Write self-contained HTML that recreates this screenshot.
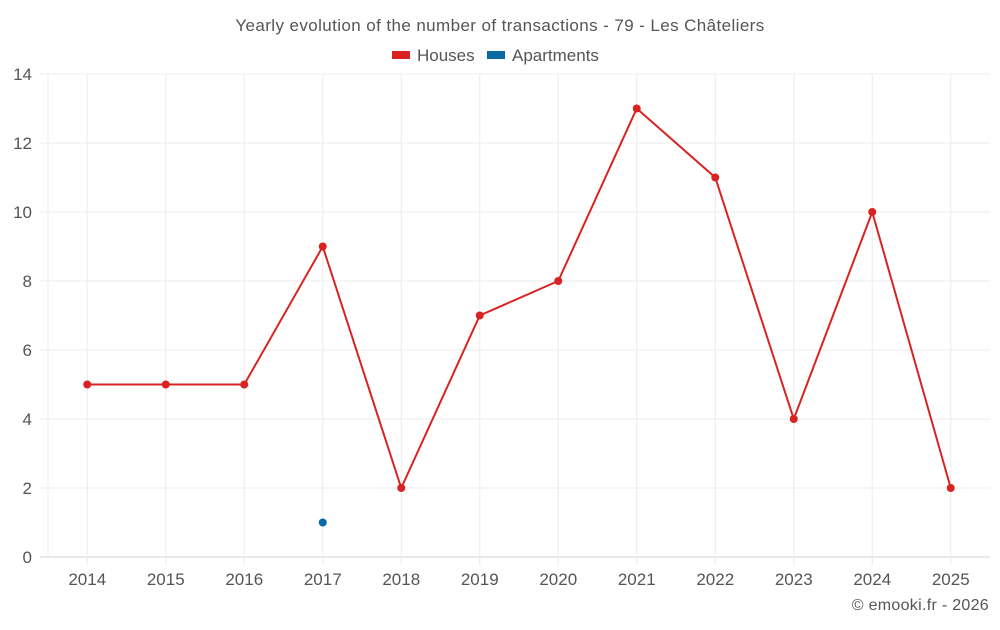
<!DOCTYPE html>
<html><head><meta charset="utf-8"><style>
body{margin:0;background:#fff;font-family:"Liberation Sans",sans-serif;}
svg text{font-family:"Liberation Sans",sans-serif;fill:#555;}
</style></head><body>
<svg id="chart" width="1000" height="625" xmlns="http://www.w3.org/2000/svg">
<text x="500" y="31" text-anchor="middle" font-size="17" letter-spacing="0.4">Yearly evolution of the number of transactions - 79 - Les Châteliers</text>
<g>
<rect x="392" y="51" width="18" height="8" fill="#d92323"/>
<text x="417" y="61" font-size="17">Houses</text>
<rect x="487" y="51" width="18" height="8" fill="#0868a8"/>
<text x="512" y="61" font-size="17">Apartments</text>
</g>
<g id="grid"></g><g id="axes"></g><g id="series"></g>
<text x="989" y="610" text-anchor="end" font-size="16" letter-spacing="0.3">© emooki.fr - 2026</text>
</svg>
<script>
const years=[2014,2015,2016,2017,2018,2019,2020,2021,2022,2023,2024,2025];
const houses=[5,5,5,9,2,7,8,13,11,4,10,2];
const apartments=[null,null,null,1,null,null,null,null,null,null,null,null];
const yTicks=[0,2,4,6,8,10,12,14];
const L=48,R=990,T=74,B=557,yMax=14;
const bw=(R-L)/years.length;
const xs=i=>L+bw*(i+0.5);
const ys=v=>B-(v/yMax)*(B-T);
const NS="http://www.w3.org/2000/svg";
function mk(tag,attrs,parent){const e=document.createElementNS(NS,tag);for(const k in attrs)e.setAttribute(k,attrs[k]);parent.appendChild(e);return e;}
const grid=document.getElementById('grid'),axes=document.getElementById('axes'),ser=document.getElementById('series');
yTicks.forEach(v=>{
 const l=mk('line',{x1:40,x2:R,y1:ys(v),y2:ys(v),stroke:v===0?'#d0d0d0':'#ececec','stroke-width':1},grid);
 
 
 const t=mk('text',{x:32,y:ys(v)+6,'text-anchor':'end','font-size':17},axes);
 t.textContent=v;
 
 
});
mk('line',{x1:L,x2:L,y1:T,y2:B,stroke:'#ececec'},grid);
years.forEach((y,i)=>{
 const l=mk('line',{x1:xs(i),x2:xs(i),y1:T,y2:B+8,stroke:'#ececec'},grid);
 
 
 const t=mk('text',{x:xs(i),y:585,'text-anchor':'middle','font-size':17},axes);
 t.textContent=y;
 
 
});
const pts=houses.map((v,i)=>xs(i)+','+ys(v)).join(' ');
const pl=mk('polyline',{points:pts,fill:'none',stroke:'#d92323','stroke-width':2},ser);


houses.forEach((v,i)=>{
 const c=mk('circle',{cx:xs(i),cy:ys(v),r:4,fill:'#d92323'},ser);
 
 
});
apartments.forEach((v,i)=>{
 if(v==null)return;
 const c=mk('circle',{cx:xs(i),cy:ys(v),r:4,fill:'#0868a8'},ser);
 
 
});
</script>
</body></html>
